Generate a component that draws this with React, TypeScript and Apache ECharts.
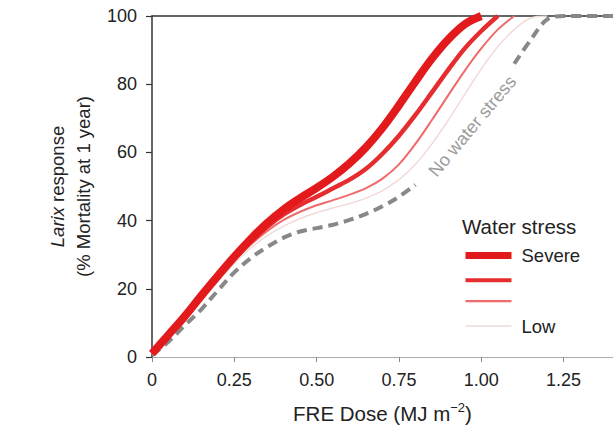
import React, { useEffect, useRef } from "react";
import * as echarts from "echarts";

const doses = [0, 0.05, 0.1, 0.15, 0.2, 0.25, 0.3, 0.35, 0.4, 0.45, 0.5, 0.55, 0.6, 0.65, 0.7, 0.75, 0.8, 0.85, 0.9, 0.95, 1.0, 1.05, 1.1, 1.15, 1.2, 1.25, 1.3, 1.35, 1.4];

const severe = [1, 6.5, 12, 18, 23.8, 29.4, 34.6, 39.3, 43.3, 46.6, 49.6, 52.9, 56.8, 61.5, 67.2, 73.8, 80.8, 87.5, 93.2, 97.6, 100, null, null, null, null, null, null, null, null];
const moderate = [1, 6.4, 11.9, 17.7, 23.3, 28.8, 33.8, 38.2, 41.8, 44.6, 47, 49.5, 52, 55.2, 59.6, 64.9, 71, 77.6, 84.3, 90.5, 95.6, 100, null, null, null, null, null, null, null];
const mild = [1, 6.3, 11.7, 17.3, 22.8, 28.2, 33, 37, 40.2, 42.6, 44.5, 46, 47.6, 49.5, 52.3, 56.5, 62.5, 69.5, 76.8, 84, 90.5, 96, 100, null, null, null, null, null, null];
const low = [1, 6.2, 11.4, 16.9, 22.2, 27.4, 32, 35.6, 38.4, 40.6, 42.3, 43.7, 45, 46.6, 48.8, 52, 56.5, 62.5, 69.5, 77, 84.5, 91, 96, 99.4, 100, null, null, null, null];
const noStress = [0.5, 4.5, 9.3, 14, 19.5, 24.8, 29, 32.3, 35, 36.8, 37.8, 38.8, 40.2, 42, 44.2, 47, 50.5, null, null, null, null, null, 86, 93, 99, 100, 100, 100, 100];

const legendNames = ["Severe", "Moderate", "Mild", "Low"];
const legendLineWidths = [7, 4, 2.2, 1.4];
const shownLegendLabels = ["Severe", "Low"];
const xTickInterval = 0.25;
const noStressLabel = "No water stress";
const noStressLabelAt = [0.973, 67.7];

const font = "Liberation Sans, Arial, Helvetica, sans-serif";

export default function App() {
  const ref = useRef<HTMLDivElement>(null);
  useEffect(() => {
    if (!ref.current) return;
    const chart = echarts.init(ref.current, null, { renderer: "svg" });
    const pairs = (ys: (number | null)[]) => doses.map((d, i) => [d, ys[i]]);
    const redSeries = (name: string, ys: (number | null)[], color: string, width: number) => ({
      name,
      type: "line",
      data: pairs(ys),
      smooth: 0.35,
      symbol: "none",
      showSymbol: false,
      connectNulls: false,
      lineStyle: { color, width, cap: "butt" },
      itemStyle: { color },
      emphasis: { disabled: true },
      silent: true,
    });
    const option: any = {
      animation: false,
      textStyle: { fontFamily: font },
      grid: { left: 152, top: 16, width: 463, height: 341 },
      title: {
        text: "Water stress",
        left: 457,
        top: 209,
        textStyle: { fontFamily: font, fontSize: 20.5, fontWeight: "normal", color: "#222", lineHeight: 24 },
      },
      legend: {
        data: legendNames.map((name, i) => ({ name, lineStyle: { width: legendLineWidths[i] } })),
        orient: "vertical",
        left: 462,
        top: 246,
        padding: 0,
        itemWidth: 46,
        itemHeight: 14,
        itemGap: 9.7,
        selectedMode: false,
        itemStyle: { opacity: 0 },
        formatter: (n: string) => (shownLegendLabels.includes(n) ? n : ""),
        textStyle: { fontFamily: font, fontSize: 18.5, color: "#222", lineHeight: 14, padding: [0, 0, 0, 5] },
      },
      xAxis: [
        {
          type: "value",
          min: 0,
          max: 1.4,
          interval: xTickInterval,
          name: "{b|FRE Dose (MJ m}{s|\u22122}{b|)}",
          nameLocation: "middle",
          nameGap: 44,
          nameTextStyle: {
            fontFamily: font,
            color: "#222",
            rich: {
              b: { fontFamily: font, fontSize: 20.5, color: "#222", lineHeight: 24 },
              s: { fontFamily: font, fontSize: 13, color: "#222", lineHeight: 14, verticalAlign: "top" },
            },
          },
          axisLine: { show: true, lineStyle: { color: "#aaa", width: 1.2 } },
          axisTick: { show: true, length: 5, lineStyle: { color: "#888" } },
          axisLabel: {
            showMaxLabel: false,
            margin: 14,
            fontFamily: font,
            fontSize: 18,
            color: "#222",
            formatter: (v: number) => (v === 0 ? "0" : v.toFixed(2)),
          },
          splitLine: { show: false },
        },
        {
          type: "value",
          position: "top",
          min: 0,
          max: 1.4,
          axisLine: { show: true, lineStyle: { color: "#333", width: 1.5 } },
          axisTick: { show: false },
          axisLabel: { show: false },
          splitLine: { show: false },
        },
      ],
      yAxis: {
        type: "value",
        min: 0,
        max: 100,
        interval: 20,
        name: "{i|Larix} response\n(% Mortality at 1 year)",
        nameLocation: "middle",
        nameGap: 53,
        nameTextStyle: {
          fontFamily: font,
          fontSize: 18.5,
          color: "#222",
          lineHeight: 26,
          rich: {
            i: { fontFamily: font, fontSize: 18.5, fontStyle: "italic", color: "#222", lineHeight: 26 },
          },
        },
        axisLine: { show: true, lineStyle: { color: "#333", width: 1.5 } },
        axisTick: { show: true, length: 6, lineStyle: { color: "#333", width: 1.2 } },
        axisLabel: { margin: 15, fontFamily: font, fontSize: 18, color: "#222" },
        splitLine: { show: false },
      },
      series: [
        {
          name: "No water stress",
          type: "line",
          data: pairs(noStress),
          smooth: 0.35,
          symbol: "none",
          showSymbol: false,
          connectNulls: false,
          lineStyle: { color: "#888", width: 4, type: [10, 6] },
          emphasis: { disabled: true },
          silent: true,
        },
        redSeries("Low", low, "#f1dada", 1.5),
        redSeries("Mild", mild, "#ef6a6a", 2),
        redSeries("Moderate", moderate, "#e52c2e", 4.5),
        redSeries("Severe", severe, "#e31a1c", 8),
      ],
    };
    chart.setOption(option);
    const [px, py] = chart.convertToPixel({ xAxisIndex: 0, yAxisIndex: 0 } as any, noStressLabelAt) as number[];
    chart.setOption({
      graphic: [
        {
          type: "text",
          x: px,
          y: py,
          rotation: (50 * Math.PI) / 180,
          silent: true,
          style: {
            text: noStressLabel,
            fontFamily: font,
            fontSize: 18,
            fill: "#9a9a9a",
            align: "center",
            verticalAlign: "middle",
          },
        },
      ],
    });
    return () => chart.dispose();
  }, []);
  return <div ref={ref} style={{ width: 613, height: 430, position: "absolute", left: 0, top: 0 }} />;
}
